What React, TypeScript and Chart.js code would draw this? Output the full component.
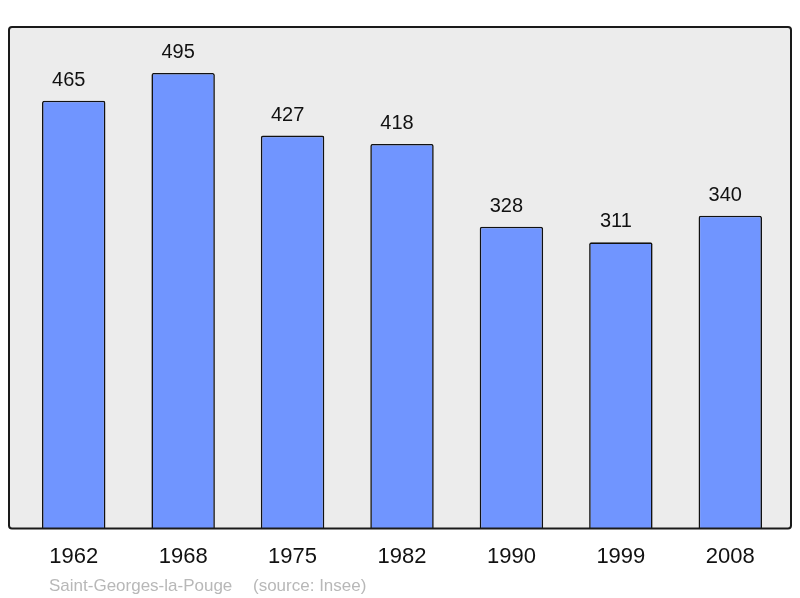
import React, { useEffect, useRef } from "react";
import { Chart, registerables } from "chart.js";

Chart.register(...registerables);

const years = ["1962", "1968", "1975", "1982", "1990", "1999", "2008"];
const population = [465, 495, 427, 418, 328, 311, 340];
const footerPlace = "Saint-Georges-la-Pouge";
const footerSource = "(source: Insee)";

const FONT = "'Liberation Sans', Arial, sans-serif";

function boxPath(ctx: any, x0: number, y0: number, x1: number, y1: number, r: number) {
  ctx.beginPath();
  ctx.moveTo(x0 + r, y0);
  ctx.lineTo(x1 - r, y0);
  ctx.quadraticCurveTo(x1, y0, x1, y0 + r);
  ctx.lineTo(x1, y1 - r);
  ctx.quadraticCurveTo(x1, y1, x1 - r, y1);
  ctx.lineTo(x0 + r, y1);
  ctx.quadraticCurveTo(x0, y1, x0, y1 - r);
  ctx.lineTo(x0, y0 + r);
  ctx.quadraticCurveTo(x0, y0, x0 + r, y0);
  ctx.closePath();
}

const boxPlugin = {
  id: "boxPlugin",
  beforeDraw(chart: any) {
    const { ctx, chartArea } = chart;
    ctx.save();
    boxPath(ctx, 9, chartArea.top, 791, chartArea.bottom, 3);
    ctx.fillStyle = "#ececec";
    ctx.fill();
    ctx.restore();
  },
  afterDatasetsDraw(chart: any) {
    const { ctx, chartArea } = chart;
    ctx.save();
    boxPath(ctx, 9, chartArea.top, 791, chartArea.bottom, 3);
    ctx.lineWidth = 2;
    ctx.strokeStyle = "#1a1a1a";
    ctx.stroke();

    // value labels
    const meta = chart.getDatasetMeta(0);
    ctx.fillStyle = "#111";
    ctx.font = `20px ${FONT}`;
    ctx.textAlign = "center";
    ctx.textBaseline = "alphabetic";
    meta.data.forEach((bar: any, i: number) => {
      ctx.fillText(String(population[i]), bar.x - 5, bar.y - 15);
    });

    // footer
    ctx.fillStyle = "#b8b8b8";
    ctx.font = `17px ${FONT}`;
    ctx.textAlign = "left";
    ctx.fillText(footerPlace, 49, 591);
    ctx.fillText(footerSource, 253, 591);
    ctx.restore();
  },
};

export default function App() {
  const ref = useRef<HTMLCanvasElement | null>(null);
  useEffect(() => {
    document.body.style.margin = "0";
    if (!ref.current) return;
    const chart = new Chart(ref.current, {
      type: "bar",
      data: {
        labels: years,
        datasets: [
          {
            data: population,
            backgroundColor: "#7095ff",
            borderColor: "#111",
            borderWidth: 1.6,
            borderRadius: 2,
            borderSkipped: "bottom",
            barPercentage: 0.58,
            categoryPercentage: 1,
          },
        ],
      },
      options: {
        responsive: false,
        maintainAspectRatio: false,
        animation: false,
        layout: { padding: { left: 19, right: 15, top: 27, bottom: 13 } },
        plugins: {
          legend: { display: false },
          tooltip: { enabled: false },
          title: { display: false },
        },
        scales: {
          x: {
            grid: { display: false, drawTicks: false },
            border: { display: false },
            ticks: {
              color: "#111",
              font: { size: 22, family: FONT },
              padding: 15,
              maxRotation: 0,
            },
          },
          y: {
            display: false,
            min: 0,
            max: 545,
          },
        },
      },
      plugins: [boxPlugin],
    });
    return () => chart.destroy();
  }, []);
  return <canvas ref={ref} width={800} height={598} style={{ display: "block" }} />;
}
